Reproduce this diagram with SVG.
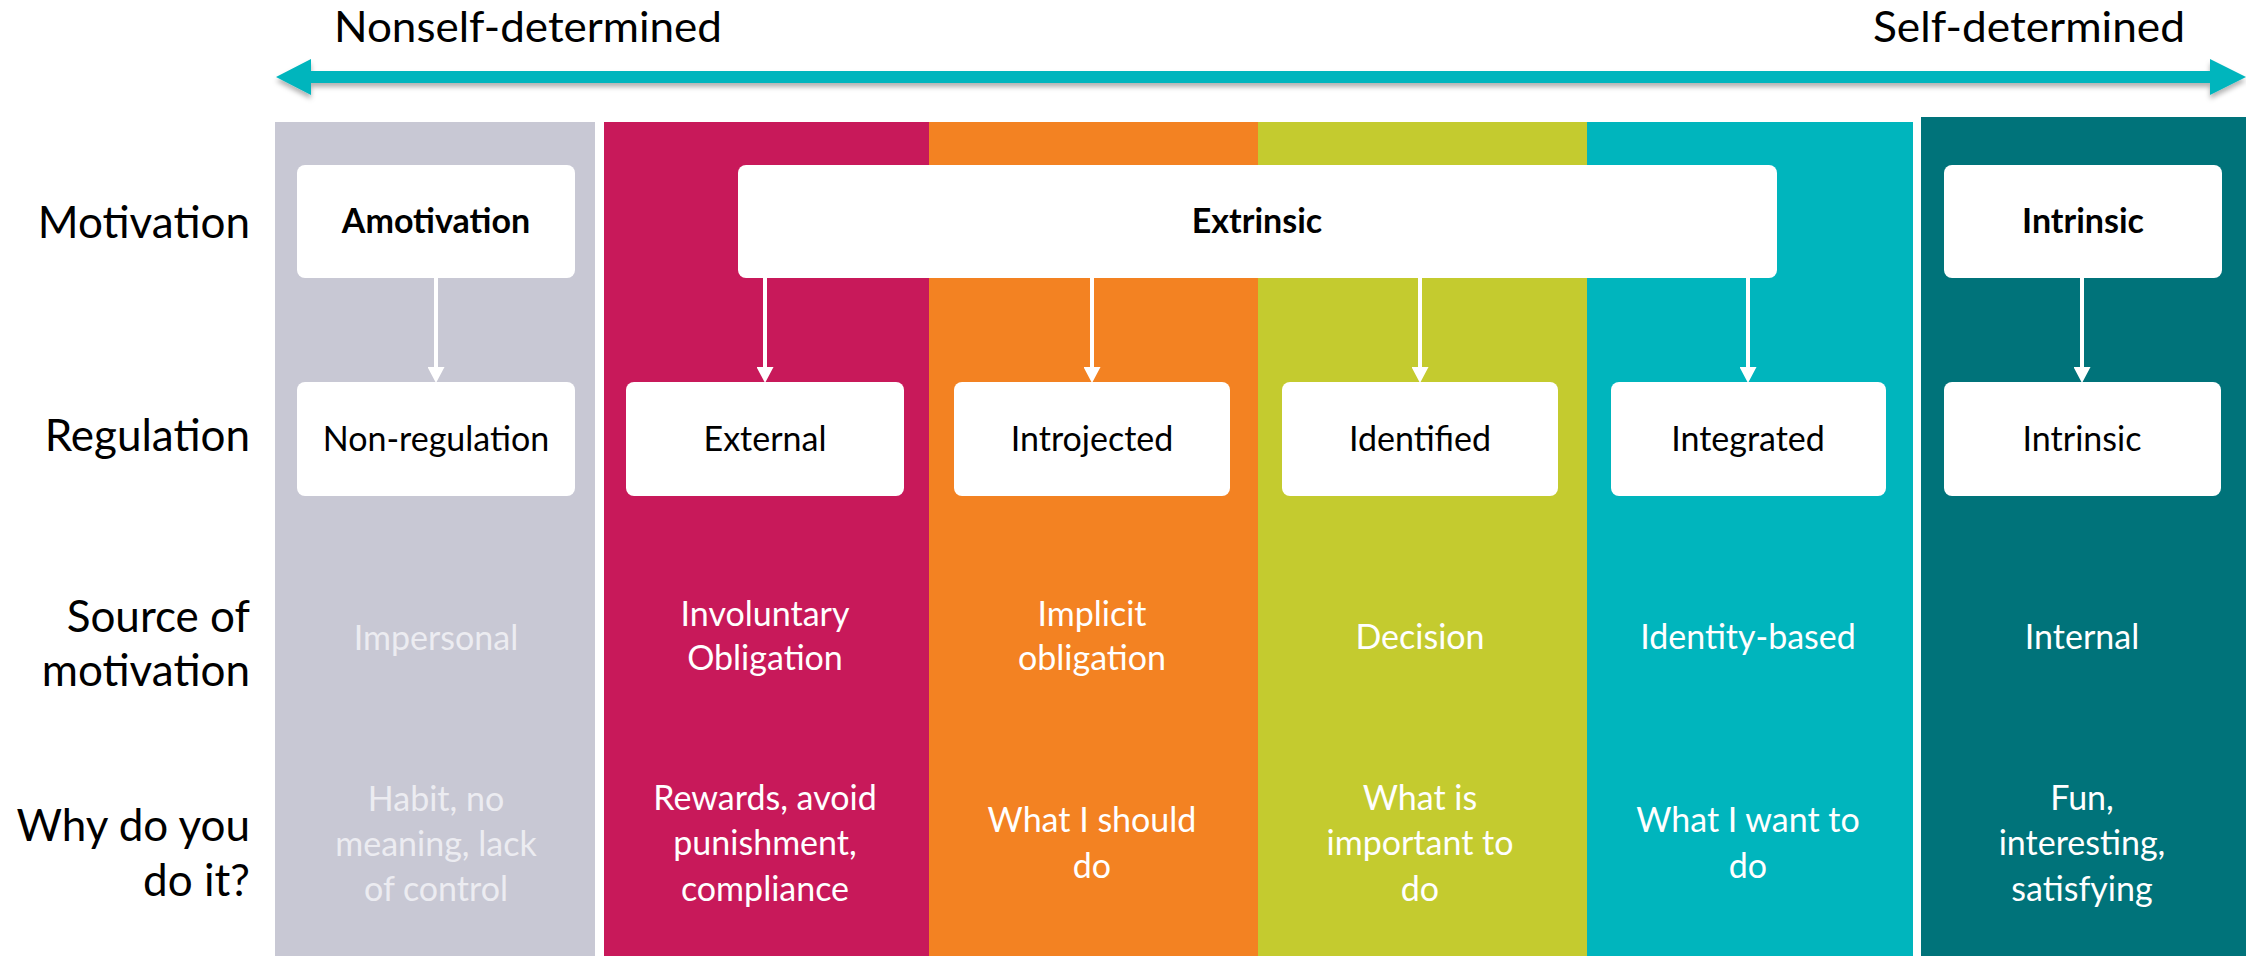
<svg xmlns="http://www.w3.org/2000/svg" width="2246" height="956" viewBox="0 0 2246 956">
  <style>
    .lbl { font-family: Lato, "Open Sans", "Liberation Sans", sans-serif; font-size: 44px; fill: #000; text-anchor: end; }
    .ttl { font-family: Lato, "Open Sans", "Liberation Sans", sans-serif; font-size: 43px; fill: #000; }
    .box { fill: #ffffff; }
    .bt  { font-family: Lato, "Open Sans", "Liberation Sans", sans-serif; font-size: 34px; fill: #000; text-anchor: middle; }
    .bb  { font-family: Lato, "Open Sans", "Liberation Sans", sans-serif; font-size: 34px; font-weight: bold; fill: #000; text-anchor: middle; }
    .ct  { font-family: Lato, "Open Sans", "Liberation Sans", sans-serif; font-size: 34px; fill: #ffffff; text-anchor: middle; }
    .cg  { fill: #ececf1; }
    .conn line { stroke: #ffffff; stroke-width: 4; marker-end: url(#head); }
  </style>
  <defs>
    <marker id="head" markerUnits="userSpaceOnUse" markerWidth="17" markerHeight="17" viewBox="0 0 16 16" refX="0" refY="8" orient="auto">
      <path d="M0,0 L15,8 L0,16 Z" fill="#ffffff"/>
    </marker>
    <filter id="shadow" x="-2%" y="-50%" width="104%" height="200%">
      <feDropShadow dx="0" dy="4" stdDeviation="2.5" flood-color="#000" flood-opacity="0.3"/>
    </filter>
  </defs>

  <rect width="2246" height="956" fill="#ffffff"/>

  <!-- continuum arrow -->
  <g id="continuum">
    <polygon points="276,77 311,59 311,71 2210,71 2210,59 2246,77 2210,95 2210,83 311,83 311,95" fill="#00b5bd" filter="url(#shadow)"/>
    <text class="ttl" x="334" y="42" textLength="388" lengthAdjust="spacingAndGlyphs">Nonself-determined</text>
    <text class="ttl" x="1873" y="42" textLength="312" lengthAdjust="spacingAndGlyphs">Self-determined</text>
  </g>

  <!-- coloured columns -->
  <g id="columns">
    <rect x="275" y="122" width="320" height="834" fill="#c8c8d4"/>
    <rect x="604" y="122" width="325" height="834" fill="#c8195a"/>
    <rect x="929" y="122" width="329" height="834" fill="#f38222"/>
    <rect x="1258" y="122" width="329" height="834" fill="#c4cb2f"/>
    <rect x="1587" y="122" width="326" height="834" fill="#00b5bd"/>
    <rect x="1921" y="117" width="325" height="839" fill="#00737a"/>
  </g>

  <!-- row labels -->
  <g id="row-labels">
    <text class="lbl" x="250" y="238">Motivation</text>
    <text class="lbl" x="250" y="451">Regulation</text>
    <text class="lbl" x="250" y="632">Source of</text>
    <text class="lbl" x="250" y="686">motivation</text>
    <text class="lbl" x="250" y="841">Why do you</text>
    <text class="lbl" x="250" y="896">do it?</text>
  </g>

  <!-- connectors -->
  <g id="connectors" class="conn">
    <line x1="436" y1="278" x2="436" y2="367"/>
    <line x1="765" y1="278" x2="765" y2="367"/>
    <line x1="1092" y1="278" x2="1092" y2="367"/>
    <line x1="1420" y1="278" x2="1420" y2="367"/>
    <line x1="1748" y1="278" x2="1748" y2="367"/>
    <line x1="2082" y1="278" x2="2082" y2="367"/>
  </g>

  <!-- motivation nodes -->
  <g id="amotivation">
    <rect class="box" x="297" y="165" width="278" height="113" rx="8"/>
    <text class="bb" x="436" y="233">Amotivation</text>
  </g>
  <g id="extrinsic">
    <rect class="box" x="738" y="165" width="1039" height="113" rx="8"/>
    <text class="bb" x="1257" y="233">Extrinsic</text>
  </g>
  <g id="intrinsic">
    <rect class="box" x="1944" y="165" width="278" height="113" rx="8"/>
    <text class="bb" x="2083" y="233">Intrinsic</text>
  </g>

  <!-- regulation nodes -->
  <g id="non-regulation">
    <rect class="box" x="297" y="382" width="278" height="114" rx="8"/>
    <text class="bt" x="436" y="451">Non-regulation</text>
  </g>
  <g id="external">
    <rect class="box" x="626" y="382" width="278" height="114" rx="8"/>
    <text class="bt" x="765" y="451">External</text>
  </g>
  <g id="introjected">
    <rect class="box" x="954" y="382" width="276" height="114" rx="8"/>
    <text class="bt" x="1092" y="451">Introjected</text>
  </g>
  <g id="identified">
    <rect class="box" x="1282" y="382" width="276" height="114" rx="8"/>
    <text class="bt" x="1420" y="451">Identified</text>
  </g>
  <g id="integrated">
    <rect class="box" x="1611" y="382" width="275" height="114" rx="8"/>
    <text class="bt" x="1748" y="451">Integrated</text>
  </g>
  <g id="intrinsic-regulation">
    <rect class="box" x="1944" y="382" width="277" height="114" rx="8"/>
    <text class="bt" x="2082" y="451">Intrinsic</text>
  </g>

  <!-- source of motivation -->
  <g id="source">
    <text class="ct cg" x="436" y="650">Impersonal</text>
    <text class="ct" x="765" y="626">Involuntary</text>
    <text class="ct" x="765" y="670">Obligation</text>
    <text class="ct" x="1092" y="626">Implicit</text>
    <text class="ct" x="1092" y="670">obligation</text>
    <text class="ct" x="1420" y="649">Decision</text>
    <text class="ct" x="1748" y="649">Identity-based</text>
    <text class="ct" x="2082" y="649">Internal</text>
  </g>

  <!-- reasons -->
  <g id="why">
    <text class="ct cg" x="436" y="811">Habit, no</text>
    <text class="ct cg" x="436" y="856">meaning, lack</text>
    <text class="ct cg" x="436" y="901">of control</text>
    <text class="ct" x="765" y="810">Rewards, avoid</text>
    <text class="ct" x="765" y="855">punishment,</text>
    <text class="ct" x="765" y="901">compliance</text>
    <text class="ct" x="1092" y="832">What I should</text>
    <text class="ct" x="1092" y="878">do</text>
    <text class="ct" x="1420" y="810">What is</text>
    <text class="ct" x="1420" y="855">important to</text>
    <text class="ct" x="1420" y="901">do</text>
    <text class="ct" x="1748" y="832">What I want to</text>
    <text class="ct" x="1748" y="878">do</text>
    <text class="ct" x="2082" y="810">Fun,</text>
    <text class="ct" x="2082" y="855">interesting,</text>
    <text class="ct" x="2082" y="901">satisfying</text>
  </g>
</svg>
